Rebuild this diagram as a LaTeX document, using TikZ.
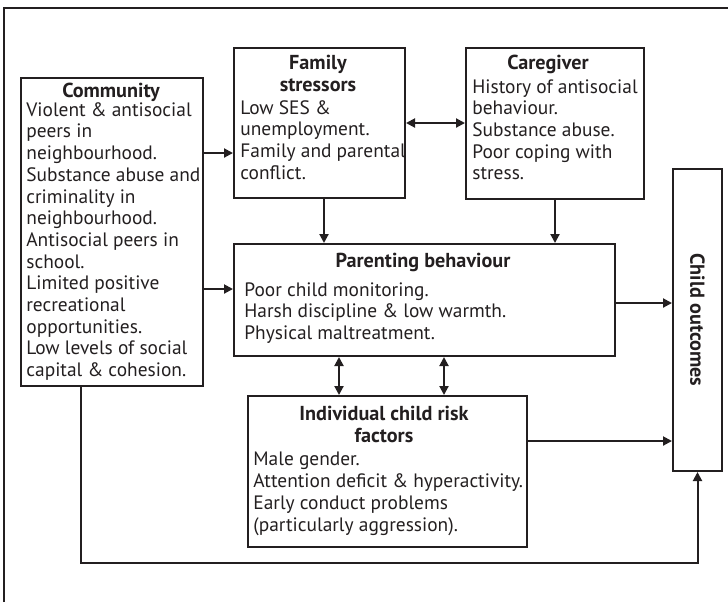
\documentclass[tikz,border=0pt]{standalone}
\usepackage{fontspec}
\setmainfont{PT Sans}
\usetikzlibrary{arrows.meta,positioning,calc}
\definecolor{ink}{HTML}{231F20}

\begin{document}
\begin{tikzpicture}[
      x=0.5pt, y=-0.5pt,
      font=\fontsize{9.7}{10.85}\selectfont,
      every node/.style={text=ink},
      box/.style={
        draw=ink,
        line width=1pt,
        anchor=north west,
        inner sep=0pt
      },
      head/.style={
        anchor=north,
        inner sep=0pt,
        align=center,
        font=\fontsize{10.1}{10.85}\selectfont\bfseries
      },
      body/.style={
        anchor=north west,
        inner sep=0pt,
        align=left
      },
      arr/.style={
        -{Triangle[length=4.5pt,width=4.5pt]},
        draw=ink,
        line width=1pt
      },
      dbl/.style={
        {Triangle[length=4.5pt,width=4.5pt]}-{Triangle[length=4.5pt,width=4.5pt]},
        draw=ink,
        line width=1pt
      }
    ]
    \useasboundingbox (0,0) rectangle (728,602);
    % outer frame, open on the right and at the bottom
    \draw[ink, line width=1pt] (4,602) -- (4,8) -- (728,8);

    \node[box, minimum width=91pt, minimum height=154pt] (community) at (20,77) {};
    \node[box, minimum width=85.5pt, minimum height=75pt] (family) at (233,47) {};
    \node[box, minimum width=89pt, minimum height=75.5pt] (caregiver) at (465,47) {};
    \node[box, minimum width=190.5pt, minimum height=56pt] (parenting) at (233,243) {};
    \node[box, minimum width=139.5pt, minimum height=75.5pt] (individual) at (247,395) {};
    \node[box, minimum width=24.5pt, minimum height=151pt] (outcomes) at (672,168) {};

    \node[head] (communityhead) at (111,83) {Community};
    \node[body] (communitytext) at (26,102) {Violent \& antisocial\\peers in\\neighbourhood.\\Substance abuse and\\criminality in\\neighbourhood.\\Antisocial peers in\\school.\\Limited positive\\recreational\\opportunities.\\Low levels of social\\capital \& cohesion.};

    \node[head] (familyhead) at (318,55) {Family\\stressors};
    \node[body] (familytext) at (240,100) {Low SES \&\\unemployment.\\Family and parental\\conflict.};

    \node[head] (caregiverhead) at (548,55) {Caregiver};
    \node[body] (caregivertext) at (472,79) {History of antisocial\\behaviour.\\Substance abuse.\\Poor coping with\\stress.};

    \node[head] (parentinghead) at (423,253) {Parenting behaviour};
    \node[body] (parentingtext) at (244,282) {Poor child monitoring.\\Harsh discipline \& low warmth.\\Physical maltreatment.};

    \node[head] (individualhead) at (384,406) {Individual child risk\\factors};
    \node[body] (individualtext) at (253,452) {Male gender.\\Attention deficit \& hyperactivity.\\Early conduct problems\\(particularly aggression).};

    \node[font=\fontsize{10.1}{10.85}\selectfont\bfseries, rotate=-90, inner sep=0pt] (outcomeshead) at (outcomes.center) {Child outcomes};

    % heights and offsets of the connectors
    \coordinate (cf) at (0,153);
    \coordinate (cp) at (0,289);
    \coordinate (fp) at (324,0);
    \coordinate (pi1) at (339,0);
    \coordinate (pi2) at (444,0);
    \coordinate (po) at (0,303);
    \coordinate (io) at (0,441);
    \coordinate (loopturn) at (81,563);

    \draw[arr] (community.east |- cf) -- (family.west |- cf);
    \draw[arr] (community.east |- cp) -- (parenting.west |- cp);
    \draw[dbl] (family.east) -- (caregiver.west |- family.east);
    \draw[arr] (family.south -| fp) -- (parenting.north -| fp);
    \draw[arr] (caregiver.south) -- (caregiver.south |- parenting.north);
    \draw[dbl] (parenting.south -| pi1) -- (individual.north -| pi1);
    \draw[dbl] (parenting.south -| pi2) -- (individual.north -| pi2);
    \draw[arr] (parenting.east |- po) -- (outcomes.west |- po);
    \draw[arr] (individual.east |- io) -- (outcomes.west |- io);
    \draw[arr] (loopturn |- community.south) -- (loopturn) -- (loopturn -| outcomes.south) -- (outcomes.south);
  \end{tikzpicture}
\end{document}
